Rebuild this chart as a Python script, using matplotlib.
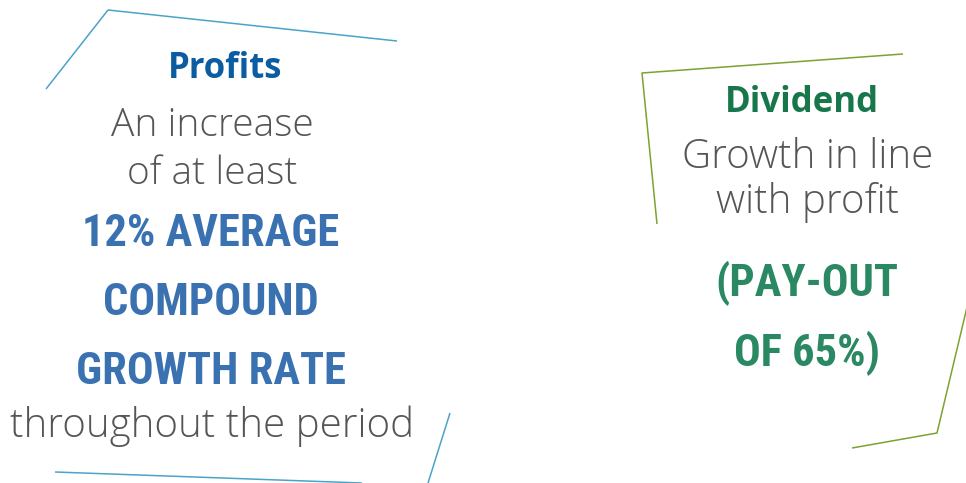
import matplotlib
matplotlib.use("Agg")
import matplotlib.pyplot as plt

# --- content -------------------------------------------------------------
# frame strokes (pixel coords, y down)
profit_frame_top = [(46, 89), (108, 10), (397, 41)]
profit_frame_bottom = [(55, 472), (362, 483)]
profit_frame_right = [(450, 413), (428, 483)]
dividend_frame_left = [(903, 54), (642, 73), (657, 224)]
dividend_frame_right = [(968, 303), (937, 433), (852, 448)]

profit_title = "Profits"
profit_intro = ["An increase", "of at least"]
profit_big = ["12% AVERAGE", "COMPOUND", "GROWTH RATE"]
profit_outro = "throughout the period"

dividend_title = "Dividend"
dividend_intro = ["Growth in line", "with profit"]
dividend_big = ["(PAY-OUT", "OF 65%)"]

BLUE_LINE = "#4ba3c9"
GREEN_LINE = "#7ba332"
BLUE_TITLE = "#0b5ca1"
BLUE_BIG = "#3a72b1"
GREEN_TITLE = "#17774a"
GREEN_BIG = "#2a8863"
GREY = "#555555"

light = ["Open Sans", "DejaVu Sans"]
narrow = ["Roboto Condensed", "Roboto", "DejaVu Sans"]

fig = plt.figure(figsize=(9.66, 4.83), dpi=100)
ax = fig.add_axes([0, 0, 1, 1])
ax.set_xlim(0, 966)
ax.set_ylim(483, 0)
ax.axis("off")

for pts, col in [(profit_frame_top, BLUE_LINE), (profit_frame_bottom, BLUE_LINE),
                 (profit_frame_right, BLUE_LINE), (dividend_frame_left, GREEN_LINE),
                 (dividend_frame_right, GREEN_LINE)]:
    xs, ys = zip(*pts)
    ax.plot(xs, ys, color=col, lw=1.1, solid_capstyle="butt")

# profits block
ax.text(225, 78, profit_title, ha="center", va="baseline", fontsize=25,
        fontweight="bold", color=BLUE_TITLE, family=light)
for y, s in zip([136, 184], profit_intro):
    ax.text(212, y, s, ha="center", va="baseline", fontsize=28,
            fontweight="light", color=GREY, family=light)
for y, s in zip([246, 315, 384], profit_big):
    ax.text(211, y, s, ha="center", va="baseline", fontsize=32,
            fontweight="bold", fontstretch="condensed", color=BLUE_BIG, family=narrow)
ax.text(212, 437, profit_outro, ha="center", va="baseline", fontsize=29,
        fontweight="light", color=GREY, family=light)

# dividend block
ax.text(802, 112, dividend_title, ha="center", va="baseline", fontsize=25,
        fontweight="bold", color=GREEN_TITLE, family=light)
for y, s in zip([168, 213], dividend_intro):
    ax.text(808, y, s, ha="center", va="baseline", fontsize=29,
            fontweight="light", color=GREY, family=light)
for y, s in zip([296, 366], dividend_big):
    ax.text(807, y, s, ha="center", va="baseline", fontsize=32,
            fontweight="bold", fontstretch="condensed", color=GREEN_BIG, family=narrow)

fig.savefig("out.png", dpi=100, facecolor="white")
